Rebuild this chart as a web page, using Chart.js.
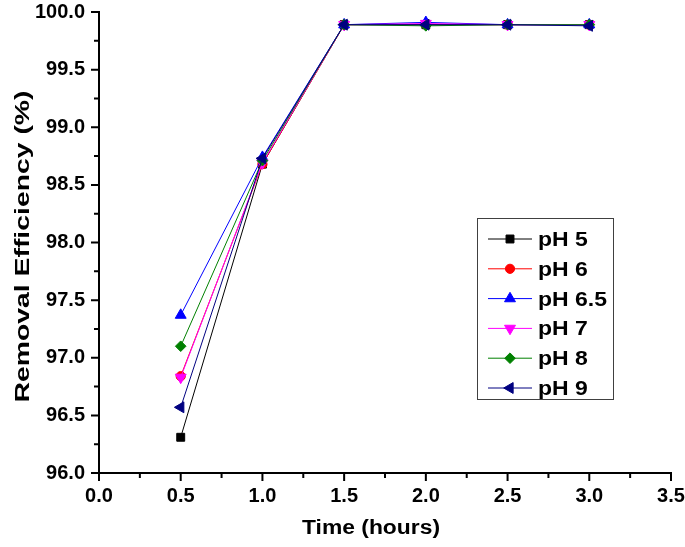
<!DOCTYPE html>
<html><head><meta charset="utf-8">
<script src="https://cdn.jsdelivr.net/npm/chart.js@4/dist/chart.umd.min.js"></script>
<style>html,body{margin:0;padding:0;background:#fff}#wrap{width:685px;height:547px}</style>
</head><body><div id="wrap"><canvas id="c" width="685" height="547"></canvas></div>
<script>
// ---- data ----
const times = [0.5, 1.0, 1.5, 2.0, 2.5, 3.0];
const seriesNames = ['pH 5', 'pH 6', 'pH 6.5', 'pH 7', 'pH 8', 'pH 9'];
const pH5  = [96.31, 98.68, 99.89, 99.89, 99.89, 99.89];
const pH6  = [96.84, 98.68, 99.89, 99.89, 99.89, 99.89];
const pH65 = [97.37, 98.74, 99.89, 99.91, 99.89, 99.89];
const pH7  = [96.83, 98.69, 99.89, 99.90, 99.89, 99.89];
const pH8  = [97.10, 98.71, 99.89, 99.88, 99.89, 99.89];
const pH9  = [96.57, 98.73, 99.89, 99.89, 99.89, 99.88];
const xTicks = [0.0, 0.5, 1.0, 1.5, 2.0, 2.5, 3.0, 3.5];
const yTicks = [96.0, 96.5, 97.0, 97.5, 98.0, 98.5, 99.0, 99.5, 100.0];
const xTitle = 'Time (hours)';
const yTitle = 'Removal Efficiency (%)';

// ---- styles ----
const allSeries = [pH5, pH6, pH65, pH7, pH8, pH9];
const styles = [
  {color: '#000000', pointStyle: 'rect', radius: 5.6, rotation: 0},
  {color: '#ff0000', pointStyle: 'circle', radius: 4.6, rotation: 0},
  {color: '#0000ff', pointStyle: 'triangle', radius: 6.3, rotation: 0},
  {color: '#ff00ff', pointStyle: 'triangle', radius: 6.3, rotation: 180},
  {color: '#008000', pointStyle: 'rectRot', radius: 5.3, rotation: 0},
  {color: '#000080', pointStyle: 'triangle', radius: 6.3, rotation: 270}
];
const FONT = '"Liberation Sans", Arial, sans-serif';

const datasets = allSeries.map((vals, i) => ({
  label: seriesNames[i],
  data: times.map((t, j) => ({x: t, y: vals[j]})),
  borderColor: styles[i].color,
  backgroundColor: styles[i].color,
  pointBackgroundColor: styles[i].color,
  pointBorderColor: styles[i].color,
  pointStyle: styles[i].pointStyle,
  pointRotation: styles[i].rotation,
  pointRadius: styles[i].radius,
  pointHoverRadius: styles[i].radius,
  pointBorderWidth: 1,
  borderWidth: 1,
  tension: 0,
  fill: false,
  order: allSeries.length - 1 - i,
  clip: false
}));

const decor = {
  id: 'decor',
  afterDraw(chart) {
    const ctx = chart.ctx, ca = chart.chartArea;
    const xs = chart.scales.x, ys = chart.scales.y;
    ctx.save();
    ctx.strokeStyle = '#000';
    ctx.lineWidth = 2;
    ctx.lineCap = 'butt';
    // axis lines
    ctx.beginPath();
    ctx.moveTo(ca.left, ca.top - 1);
    ctx.lineTo(ca.left, ca.bottom + 1);
    ctx.moveTo(ca.left - 1, ca.bottom);
    ctx.lineTo(ca.right + 1, ca.bottom);
    ctx.stroke();
    // ticks
    ctx.beginPath();
    xTicks.forEach((v, k) => {
      const px = xs.getPixelForValue(v);
      ctx.moveTo(px, ca.bottom); ctx.lineTo(px, ca.bottom + 8);
      if (k < xTicks.length - 1) {
        const pm = xs.getPixelForValue((v + xTicks[k + 1]) / 2);
        ctx.moveTo(pm, ca.bottom); ctx.lineTo(pm, ca.bottom + 5);
      }
    });
    yTicks.forEach((v, k) => {
      const py = ys.getPixelForValue(v);
      ctx.moveTo(ca.left, py); ctx.lineTo(ca.left - 8, py);
      if (k < yTicks.length - 1) {
        const pm = ys.getPixelForValue((v + yTicks[k + 1]) / 2);
        ctx.moveTo(ca.left, pm); ctx.lineTo(ca.left - 5, pm);
      }
    });
    ctx.stroke();

    // titles
    ctx.fillStyle = '#000';
    ctx.font = 'bold 20px ' + FONT;
    ctx.textBaseline = 'alphabetic';
    ctx.textAlign = 'center';
    let w = ctx.measureText(xTitle).width;
    ctx.save();
    ctx.translate(371, 534);
    ctx.scale(138 / w, 1);
    ctx.fillText(xTitle, 0, 0);
    ctx.restore();

    w = ctx.measureText(yTitle).width;
    ctx.save();
    ctx.translate(29, 246.5);
    ctx.rotate(-Math.PI / 2);
    ctx.scale(312 / w, 1);
    ctx.fillText(yTitle, 0, 0);
    ctx.restore();

    // legend
    ctx.lineWidth = 1;
    ctx.strokeStyle = '#404040';
    ctx.strokeRect(477.5, 218.5, 136, 181);
    ctx.font = 'bold 20px ' + FONT;
    ctx.textAlign = 'left';
    const lsx = 69 / ctx.measureText('pH 6.5').width;
    seriesNames.forEach((name, i) => {
      const y = 239 + i * 29.8;
      const st = styles[i];
      ctx.strokeStyle = st.color;
      ctx.fillStyle = st.color;
      ctx.lineWidth = 1;
      ctx.beginPath();
      ctx.moveTo(488, y); ctx.lineTo(532, y);
      ctx.stroke();
      if (Chart.helpers && Chart.helpers.drawPoint) {
        Chart.helpers.drawPoint(ctx, {pointStyle: st.pointStyle, rotation: st.rotation, radius: st.radius, borderWidth: 1}, 510, y);
      }
      ctx.fillStyle = '#000';
      ctx.save();
      ctx.translate(538, y + 7);
      ctx.scale(lsx, 1);
      ctx.fillText(name, 0, 0);
      ctx.restore();
    });
    ctx.restore();
  }
};

const tickFont = {family: FONT, size: 20, weight: 'bold'};
new Chart(document.getElementById('c'), {
  type: 'line',
  data: {datasets},
  options: {
    responsive: false,
    devicePixelRatio: 1,
    animation: false,
    events: [],
    layout: {padding: {top: 12, right: 14, left: 0, bottom: 0}},
    plugins: {legend: {display: false}, tooltip: {enabled: false}, title: {display: false}},
    scales: {
      x: {
        type: 'linear', min: xTicks[0], max: xTicks[xTicks.length - 1],
        afterBuildTicks: s => { s.ticks = xTicks.map(v => ({value: v})); },
        ticks: {font: tickFont, color: '#000', padding: 11, maxRotation: 0, autoSkip: false,
                callback: v => Number(v).toFixed(1)},
        grid: {display: false, drawTicks: false},
        border: {display: false},
        afterFit: s => { s.height = 74; s.paddingLeft = 0; s.paddingRight = 0; }
      },
      y: {
        type: 'linear', min: yTicks[0], max: yTicks[yTicks.length - 1],
        afterBuildTicks: s => { s.ticks = yTicks.map(v => ({value: v})); },
        ticks: {font: tickFont, color: '#000', padding: 14, autoSkip: false,
                callback: v => Number(v).toFixed(1)},
        grid: {display: false, drawTicks: false},
        border: {display: false},
        afterFit: s => { s.width = 99; s.paddingTop = 0; s.paddingBottom = 0; }
      }
    }
  },
  plugins: [decor]
});
</script></body></html>
